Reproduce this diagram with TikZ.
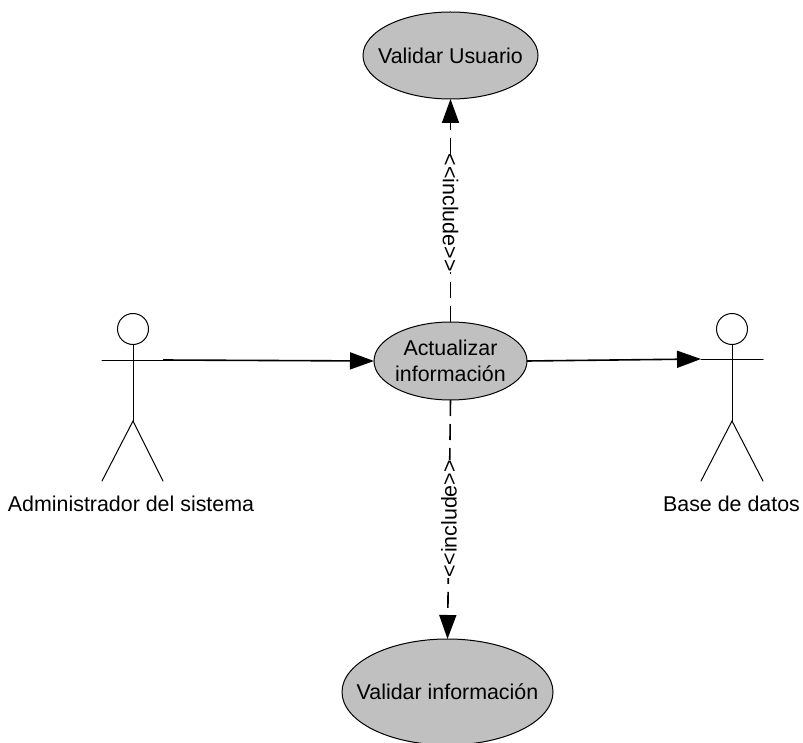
\documentclass[tikz,border=0pt]{standalone}
\usepackage{fontspec}
\setmainfont{Liberation Sans}
\usetikzlibrary{shapes.geometric,arrows.meta}
\definecolor{ucgray}{RGB}{192,192,192}
\tikzset{
  usecase/.style={ellipse,draw=black,fill=ucgray,line width=1pt,inner sep=-20pt,outer sep=0pt,align=center,font=\fontsize{21.4}{26}\selectfont},
  actorline/.style={line width=1pt,line cap=round},
  actorlabel/.style={inner sep=0pt,font=\fontsize{21.4}{26}\selectfont},
  assoc/.style={line width=1.6pt,-{Triangle[length=24pt,width=17pt]}},
  incl/.style={line width=1.6pt,dash pattern=on 16pt off 8pt,-{Triangle[length=24pt,width=17pt]}},
  incllabel/.style={fill=white,inner sep=0pt,font=\fontsize{21.4}{26}\selectfont}
}
\begin{document}
\begin{tikzpicture}[x=1pt,y=-1pt]
\useasboundingbox (0,0) rectangle (803,743);
\node[usecase,minimum width=175pt,minimum height=87pt] (vu) at (450.5,55.5) {Validar Usuario};
\node[usecase,minimum width=153pt,minimum height=78pt] (ai) at (450.5,361) {Actualizar\\información};
\node[usecase,minimum width=211pt,minimum height=106pt] (vi) at (447.5,692) {Validar información};
% left actor
\node[circle,draw,line width=1pt,minimum size=31pt,inner sep=0pt] (lh) at (133,329) {};
\coordinate (lhand) at (163,360);
\coordinate (lhandb) at (102,360);
\coordinate (lhip) at (133,421);
\coordinate (lfa) at (102,481);
\coordinate (lfb) at (163,481);
\draw[actorline] (lh.south) -- (lhip);
\draw[actorline] (lhandb) -- (lhand);
\draw[actorline] (lfa) -- (lhip) -- (lfb);
\node[actorlabel] (ll) at (131,504) {Administrador del sistema};
% right actor
\node[circle,draw,line width=1pt,minimum size=31pt,inner sep=0pt] (rh) at (732,329) {};
\coordinate (rhand) at (701,359);
\coordinate (rhandb) at (763,359);
\coordinate (rhip) at (732,421);
\coordinate (rfa) at (701,481);
\coordinate (rfb) at (763,481);
\draw[actorline] (rh.south) -- (rhip);
\draw[actorline] (rhand) -- (rhandb);
\draw[actorline] (rfa) -- (rhip) -- (rfb);
\node[actorlabel] (rl) at (731.5,504) {Base de datos};
% connectors
\draw[assoc] (lhand) -- (ai.west);
\draw[assoc] (ai.east) -- (rhand);
\draw[incl] (ai.north) -- (vu.south) node[incllabel,pos=0.49,rotate=-90] (il1) {<{}<include>{}>};
\draw[incl] (ai.south) -- (vi.north) node[incllabel,pos=0.498,rotate=90] (il2) {<{}<include>{}>};
\end{tikzpicture}
\end{document}
